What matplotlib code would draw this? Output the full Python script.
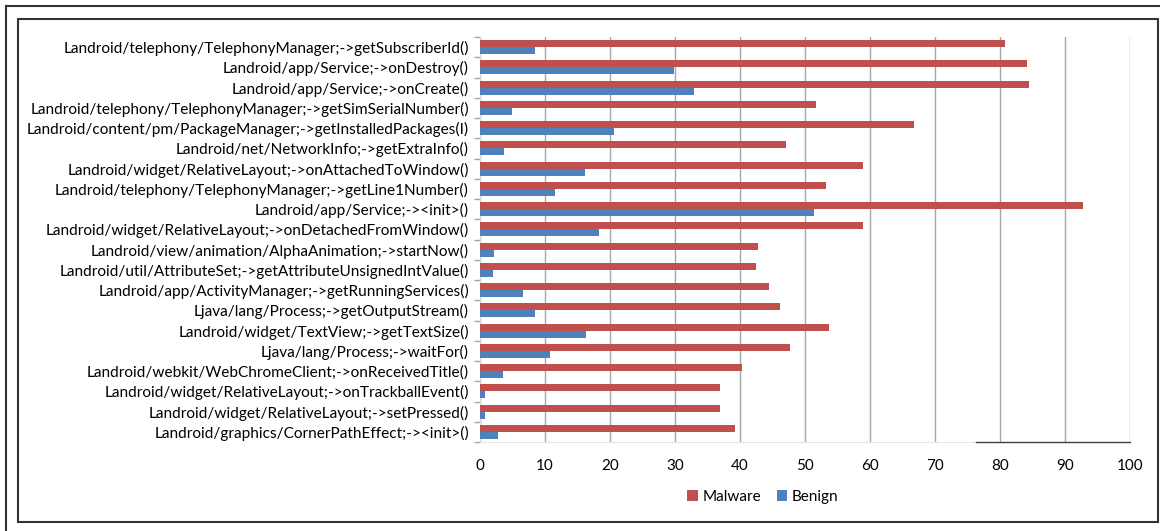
import matplotlib.pyplot as plt
import numpy as np
from matplotlib.lines import Line2D
from matplotlib.patches import Rectangle

plt.rcParams['font.family'] = ['Lato', 'DejaVu Sans']

# API 调用名称（自上而下）
apis = [
    "Landroid/telephony/TelephonyManager;->getSubscriberId()",
    "Landroid/app/Service;->onDestroy()",
    "Landroid/app/Service;->onCreate()",
    "Landroid/telephony/TelephonyManager;->getSimSerialNumber()",
    "Landroid/content/pm/PackageManager;->getInstalledPackages(I)",
    "Landroid/net/NetworkInfo;->getExtraInfo()",
    "Landroid/widget/RelativeLayout;->onAttachedToWindow()",
    "Landroid/telephony/TelephonyManager;->getLine1Number()",
    "Landroid/app/Service;-><init>()",
    "Landroid/widget/RelativeLayout;->onDetachedFromWindow()",
    "Landroid/view/animation/AlphaAnimation;->startNow()",
    "Landroid/util/AttributeSet;->getAttributeUnsignedIntValue()",
    "Landroid/app/ActivityManager;->getRunningServices()",
    "Ljava/lang/Process;->getOutputStream()",
    "Landroid/widget/TextView;->getTextSize()",
    "Ljava/lang/Process;->waitFor()",
    "Landroid/webkit/WebChromeClient;->onReceivedTitle()",
    "Landroid/widget/RelativeLayout;->onTrackballEvent()",
    "Landroid/widget/RelativeLayout;->setPressed()",
    "Landroid/graphics/CornerPathEffect;-><init>()",
]
malware = [80.8, 84.1, 84.4, 51.7, 66.8, 47.1, 59.0, 53.2, 92.8, 59.0,
           42.8, 42.5, 44.5, 46.1, 53.7, 47.7, 40.3, 36.9, 36.9, 39.2]
benign = [8.5, 29.8, 32.9, 4.9, 20.6, 3.7, 16.2, 11.6, 51.4, 18.3,
          2.2, 2.0, 6.6, 8.5, 16.3, 10.8, 3.6, 0.7, 0.7, 2.8]
xticks = list(range(0, 101, 10))

red = '#C0504D'
blue = '#4F81BD'

fig = plt.figure(figsize=(11.6, 5.31), dpi=100)
ax = fig.add_axes([480 / 1160, 89 / 531, 650 / 1160, 405 / 531])

y = np.arange(len(apis))
h = 0.34
ax.barh(y - h / 2, malware, height=h, color=red, label='Malware', zorder=3)
ax.barh(y + h / 2, benign, height=h, color=blue, label='Benign', zorder=3)

ax.set_ylim(len(apis) - 0.5, -0.5)
ax.set_xlim(0, 100)
ax.set_xticks(xticks)
ax.set_yticks(y)
ax.set_yticklabels(apis, fontsize=11.1)
ax.tick_params(axis='y', length=0, pad=8)
ax.tick_params(axis='x', length=0, labelsize=11, pad=12)

# 类别边界处的小刻度
ax.set_yticks(np.arange(-0.5, len(apis)), minor=True)
ax.tick_params(axis='y', which='minor', length=4, color='#A6A6A6', width=1)

ax.grid(axis='x', color='#A6A6A6', linewidth=1, zorder=0)
for s in ['top', 'right']:
    ax.spines[s].set_visible(False)
ax.spines['left'].set_color('#D9D9D9')
ax.spines['bottom'].set_color('#E6E6E6')
ax.plot([76.3, 100], [len(apis) - 0.5] * 2, color='#404040', lw=1,
        clip_on=False, zorder=4)

fig.legend(loc='center', bbox_to_anchor=(763 / 1160, 1 - 497 / 531), ncol=2,
           frameon=False, fontsize=11, handlelength=0.7, handleheight=0.7,
           handletextpad=0.3, columnspacing=1.0)

# 外框
fig.add_artist(Rectangle((18 / 1160, 9 / 531), 1140 / 1160, 503 / 531,
                         transform=fig.transFigure, fill=False,
                         edgecolor='#333333', lw=1.5))
fig.add_artist(Line2D([6 / 1160, 1], [1 - 6 / 531] * 2,
                      transform=fig.transFigure, color='#333333', lw=1.5))
fig.add_artist(Line2D([6 / 1160] * 2, [0, 1 - 6 / 531],
                      transform=fig.transFigure, color='#333333', lw=1.5))

plt.savefig('out.png', dpi=100)
